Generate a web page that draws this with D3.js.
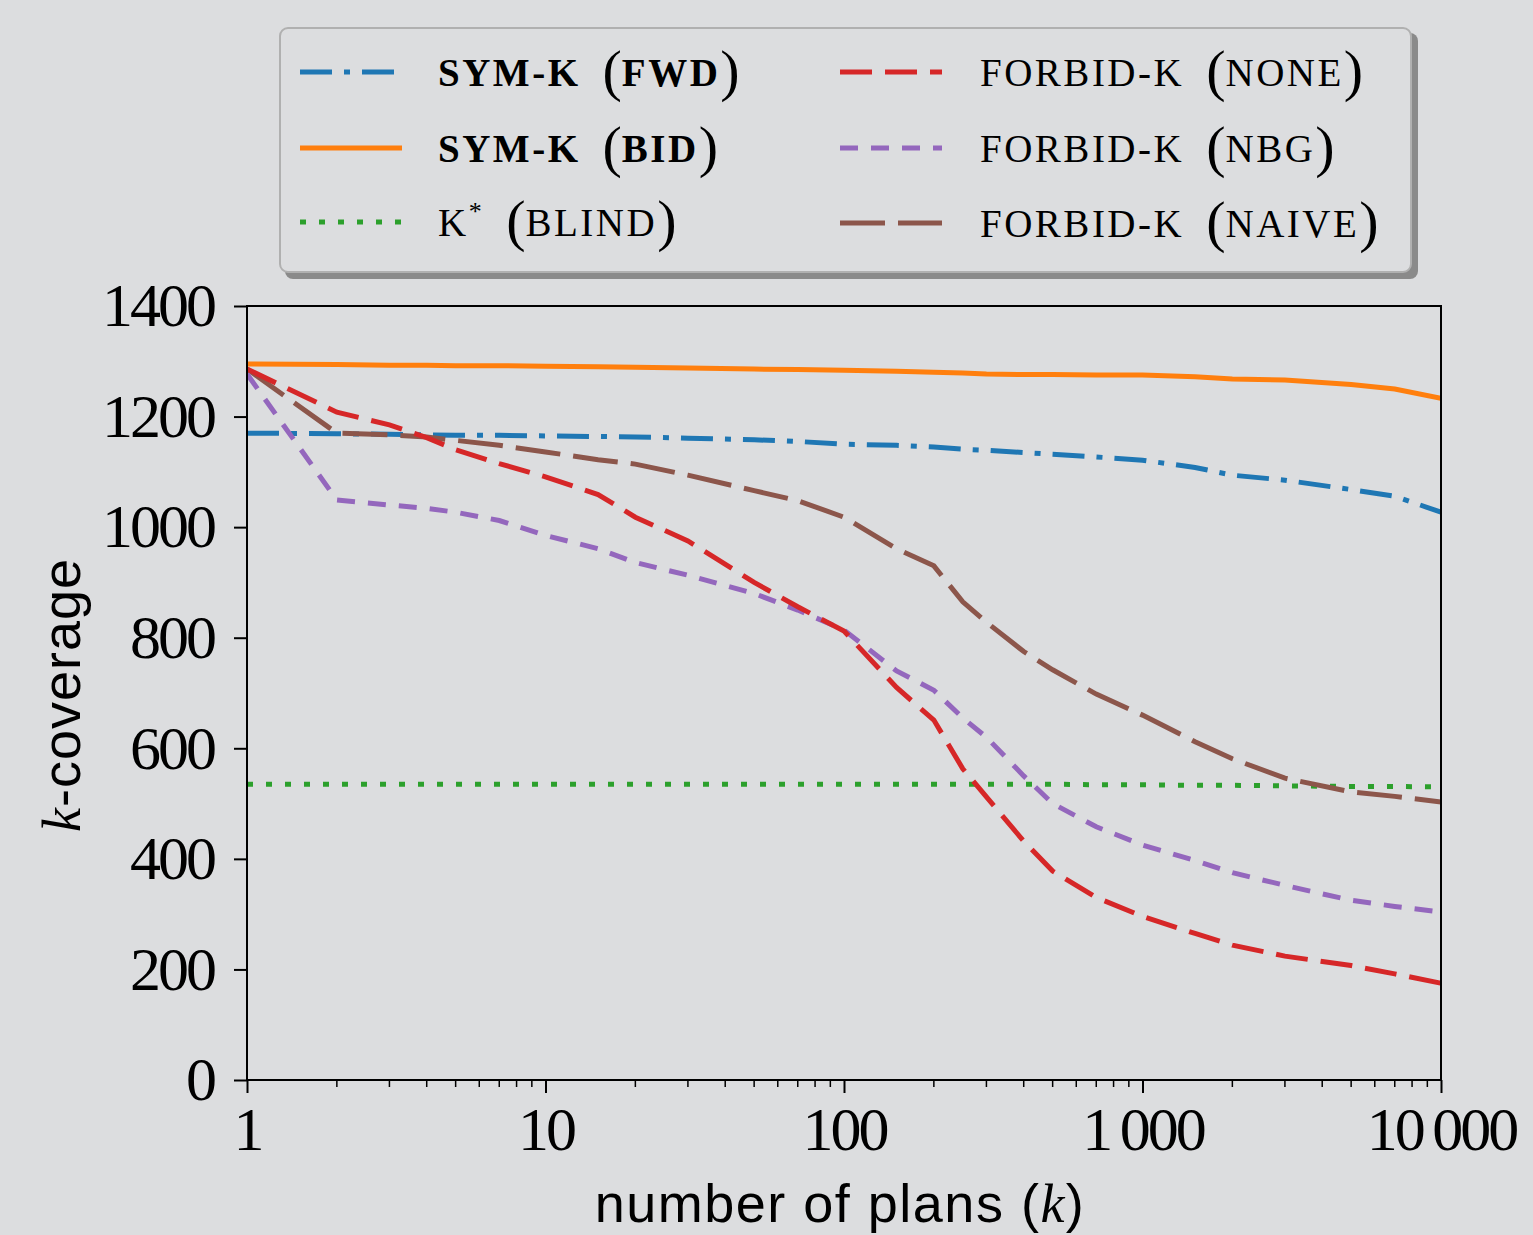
<!DOCTYPE html>
<html><head><meta charset="utf-8">
<script src="https://cdn.jsdelivr.net/npm/d3@7"></script>
<style>
html,body{margin:0;padding:0;background:#dcdddf;}
svg{display:block;}
</style></head>
<body>
<svg id="chart" width="1533" height="1235"></svg>
<script>
// ---- data ----
const kValues = [1,2,3,4,5,7,10,15,20,30,50,70,100,150,200,250,300,400,500,700,1000,1500,2000,3000,5000,7000,10000];
const symFwd   = [1170,1169,1168,1167,1166,1166,1165,1164,1163,1161,1158,1155,1150,1148,1145,1141,1139,1135,1132,1127,1121,1108,1094,1085,1068,1056,1027];
const symBid   = [1295,1294,1293,1293,1292,1292,1291,1290,1289,1288,1286,1285,1284,1282,1280,1279,1277,1276,1276,1275,1275,1272,1268,1266,1258,1250,1233];
const kStar    = [535,535,535,535,535,535,535,535,535,535,535,535,535,535,535,535,535,535,535,534,534,533,533,532,531,531,530];
const fbNone   = [1286,1208,1185,1162,1140,1115,1091,1059,1018,975,900,856,812,710,651,563,512,432,378,330,296,265,244,224,207,192,175];
const fbNbg    = [1277,1049,1040,1034,1027,1012,985,961,936,913,880,850,814,740,705,655,620,550,500,458,425,397,375,352,325,314,304];
const fbNaive  = [1286,1170,1167,1163,1157,1148,1136,1122,1114,1094,1066,1048,1018,961,930,865,828,775,742,698,660,612,581,546,521,513,503];
const seriesPrefix = ["SYM-K","SYM-K","K","FORBID-K","FORBID-K","FORBID-K"];
const seriesInner  = ["FWD","BID","BLIND","NONE","NBG","NAIVE"];
const xTicks = [1,10,100,1000,10000];
const xTickLabels = ["1","10","100","1\u2009000","10\u2009000"];
const yTicks = [0,200,400,600,800,1000,1200,1400];

// ---- styles ----
const styles = [
  {color:"#1f77b4", dash:"32,12,6,12", bold:true},
  {color:"#ff7f0e", dash:null, bold:true},
  {color:"#2ca02c", dash:"6,13", bold:false},
  {color:"#d62728", dash:"32,13", bold:false},
  {color:"#9467bd", dash:"18,13", bold:false},
  {color:"#8c564b", dash:"45,13", bold:false}
];
const allSeries = [symFwd, symBid, kStar, fbNone, fbNbg, fbNaive];

const svg = d3.select("#chart");
const W = 1533, H = 1235;
svg.append("rect").attr("width",W).attr("height",H).attr("fill","#dcdddf");

const mLeft = 247, mRight = 1441, mTop = 306, mBottom = 1080;
const x = d3.scaleLog().domain([1,10000]).range([mLeft,mRight]);
const y = d3.scaleLinear().domain([0,1400]).range([mBottom,mTop]);

const serif = "'Liberation Serif','DejaVu Serif',serif";
const sans = "'Liberation Sans','DejaVu Sans',sans-serif";

// clip
svg.append("clipPath").attr("id","clip").append("rect")
  .attr("x",mLeft).attr("y",mTop).attr("width",mRight-mLeft).attr("height",mBottom-mTop);

// lines
const line = d3.line().x(d=>x(d[0])).y(d=>y(d[1]));
const order = [2,1,0,5,4,3];
order.forEach(i=>{
  const data = kValues.map((k,j)=>[k, allSeries[i][j]]);
  svg.append("path").datum(data)
    .attr("d", line)
    .attr("fill","none")
    .attr("stroke", styles[i].color)
    .attr("stroke-width", 5)
    .attr("stroke-dasharray", styles[i].dash)
    .attr("clip-path","url(#clip)");
});

// frame
svg.append("rect").attr("x",mLeft).attr("y",mTop).attr("width",mRight-mLeft).attr("height",mBottom-mTop)
  .attr("fill","none").attr("stroke","#000").attr("stroke-width",2);

// x axis
const xAxis = d3.axisBottom(x).tickValues(xTicks).tickFormat((d,i)=>xTickLabels[i]).tickSize(13).tickPadding(13);
const gx = svg.append("g").attr("transform",`translate(0,${mBottom})`).call(xAxis);
gx.select(".domain").remove();
gx.selectAll(".tick line").attr("stroke","#000").attr("stroke-width",2);
gx.selectAll(".tick text").attr("font-family",serif).attr("font-size",62).attr("letter-spacing",-3).attr("fill","#000").attr("dy","0.71em");
// minor ticks
const minor = [];
for (let e=0;e<4;e++) for (let m=2;m<=9;m++) minor.push(m*Math.pow(10,e));
svg.append("g").selectAll("line").data(minor).join("line")
  .attr("x1",d=>x(d)).attr("x2",d=>x(d)).attr("y1",mBottom).attr("y2",mBottom+7)
  .attr("stroke","#000").attr("stroke-width",1.5);

// y axis
const yAxis = d3.axisLeft(y).tickValues(yTicks).tickFormat(d3.format("d")).tickSize(13).tickPadding(20);
const gy = svg.append("g").attr("transform",`translate(${mLeft},0)`).call(yAxis);
gy.select(".domain").remove();
gy.selectAll(".tick line").attr("stroke","#000").attr("stroke-width",2);
gy.selectAll(".tick text").attr("font-family",serif).attr("font-size",62).attr("letter-spacing",-3).attr("fill","#000");

// axis labels
const xl = svg.append("text").attr("x",840).attr("y",1222).attr("text-anchor","middle")
  .attr("font-family",sans).attr("font-size",54).attr("letter-spacing",1.5).attr("fill","#000");
xl.append("tspan").text("number of plans (");
xl.append("tspan").attr("font-family",serif).attr("font-style","italic").text("k");
xl.append("tspan").text(")");

const yl = svg.append("text").attr("transform","translate(80,695) rotate(-90)").attr("text-anchor","middle")
  .attr("font-family",sans).attr("font-size",54).attr("letter-spacing",1).attr("fill","#000");
yl.append("tspan").attr("font-family",serif).attr("font-style","italic").text("k");
yl.append("tspan").text("-coverage");

// legend
const lg = svg.append("g");
lg.append("rect").attr("x",285).attr("y",33).attr("width",1133).attr("height",246).attr("rx",8)
  .attr("fill","#8a8a8a");
lg.append("rect").attr("x",280).attr("y",28).attr("width",1131).attr("height",244).attr("rx",8)
  .attr("fill","#dcdddf").attr("stroke","#b0b0b0").attr("stroke-width",2);
const legendPos = [
  {lx:300, tx:438, y:72},
  {lx:300, tx:438, y:148},
  {lx:300, tx:438, y:222},
  {lx:840, tx:980, y:72},
  {lx:840, tx:980, y:148},
  {lx:840, tx:980, y:223}
];
seriesPrefix.forEach((pre,i)=>{
  const p = legendPos[i];
  lg.append("line").attr("x1",p.lx).attr("x2",p.lx+102).attr("y1",p.y).attr("y2",p.y)
    .attr("stroke",styles[i].color).attr("stroke-width",5).attr("stroke-dasharray",styles[i].dash);
  const t = lg.append("text").attr("x",p.tx).attr("y",p.y+14)
    .attr("font-family",serif).attr("font-size",39).attr("fill","#000")
    .attr("font-weight",styles[i].bold?"bold":"normal").attr("letter-spacing",2.5);
  t.append("tspan").text(pre);
  if (i===2) t.append("tspan").attr("font-size",26).attr("dy",-16).text("*");
  t.append("tspan").attr("font-size",58).attr("font-weight","normal").attr("letter-spacing",0)
    .attr("dy", i===2?20:4).attr("dx",22).text("(");
  t.append("tspan").attr("dy",-4).text(seriesInner[i]);
  t.append("tspan").attr("font-size",58).attr("font-weight","normal").attr("dy",4).text(")");
});
</script>
</body></html>
